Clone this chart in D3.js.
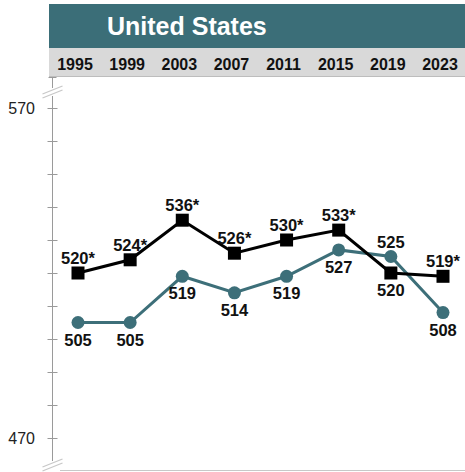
<!DOCTYPE html>
<html>
<head>
<meta charset="utf-8">
<script src="https://cdn.jsdelivr.net/npm/d3@7"></script>
<style>
  body { margin: 0; background: #fff; }
  svg { font-family: "Liberation Sans", Arial, sans-serif; }
</style>
</head>
<body>
<script>
'use strict';

// chart values
const years = ["1995", "1999", "2003", "2007", "2011", "2015", "2019", "2023"];
const blackValues = [520, 524, 536, 526, 530, 533, 520, 519];
const blackLabels = ["520*", "524*", "536*", "526*", "530*", "533*", "520", "519*"];
const tealValues = [505, 505, 519, 514, 519, 527, 525, 508];
const tealLabels = ["505", "505", "519", "514", "519", "527", "525", "508"];
const yTicks = [470, 480, 490, 500, 510, 520, 530, 540, 550, 560, 570];
const yLabels = [470, 570];
const title = "United States";

const teal = "#3d6f79";

(function() {
  const width = 465, height = 472;
  const svg = d3.select("body").append("svg")
    .attr("width", width)
    .attr("height", height);

  // header
  svg.append("rect")
    .attr("x", 49).attr("y", 4)
    .attr("width", width - 49).attr("height", 44)
    .attr("fill", "#3b6e78");
  svg.append("text")
    .attr("x", 107).attr("y", 35)
    .attr("fill", "#fff")
    .style("font-size", "25px")
    .style("font-weight", "bold")
    .text(title);

  // year band
  svg.append("rect")
    .attr("x", 49).attr("y", 48)
    .attr("width", width - 49).attr("height", 28)
    .attr("fill", "#d9d9d9");
  svg.append("line")
    .attr("x1", 49).attr("x2", width)
    .attr("y1", 76.5).attr("y2", 76.5)
    .attr("stroke", "#bdbdbd");

  let x = d3.scalePoint()
    .domain(years)
    .range([78, 443]);

  let y = d3.scaleLinear()
    .domain([470, 570])
    .range([438, 108]);

  svg.selectAll(".year")
    .data(years)
    .enter()
    .append("text")
      .attr("class", "year")
      .attr("x", (d) => x(d) - 3)
      .attr("y", 70)
      .attr("text-anchor", "middle")
      .style("font-size", "16px")
      .style("font-weight", "bold")
      .attr("fill", "#111")
      .text((d) => d);

  // y axis with breaks
  const axisX = 52.5;
  const axisColor = "#9a9a9a";
  svg.append("line")
    .attr("x1", axisX).attr("x2", axisX)
    .attr("y1", 77).attr("y2", 88)
    .attr("stroke", axisColor);
  svg.append("line")
    .attr("x1", axisX - 4).attr("x2", axisX + 4)
    .attr("y1", 77.5).attr("y2", 77.5)
    .attr("stroke", axisColor);
  svg.append("line")
    .attr("x1", axisX).attr("x2", axisX)
    .attr("y1", 96).attr("y2", 461)
    .attr("stroke", axisColor);

  function breakMark(cy) {
    [-2, 2].forEach((o) => {
      svg.append("line")
        .attr("x1", axisX - 10).attr("y1", cy + 4 + o)
        .attr("x2", axisX + 10).attr("y2", cy - 4 + o)
        .attr("stroke", "#c8c8c8")
        .attr("stroke-width", 1.3);
    });
  }
  breakMark(92);
  breakMark(465);

  svg.append("line")
    .attr("x1", 60).attr("x2", width)
    .attr("y1", 470.5).attr("y2", 470.5)
    .attr("stroke", "#c8c8c8");

  svg.selectAll(".ytick")
    .data(yTicks)
    .enter()
    .append("line")
      .attr("class", "ytick")
      .attr("x1", axisX - 5).attr("x2", axisX + 5)
      .attr("y1", (d) => Math.round(y(d)) + 0.5)
      .attr("y2", (d) => Math.round(y(d)) + 0.5)
      .attr("stroke", axisColor);

  svg.selectAll(".ylabel")
    .data(yLabels)
    .enter()
    .append("text")
      .attr("class", "ylabel")
      .attr("x", 35)
      .attr("y", (d) => y(d) + 6)
      .attr("text-anchor", "end")
      .style("font-size", "16px")
      .attr("fill", "#222")
      .text((d) => d);

  // lines
  let line = d3.line()
    .x((d, i) => x(years[i]))
    .y((d) => y(d));

  svg.append("path")
    .datum(tealValues)
    .attr("fill", "none")
    .attr("stroke", teal)
    .attr("stroke-width", 3)
    .attr("d", line);

  svg.append("path")
    .datum(blackValues)
    .attr("fill", "none")
    .attr("stroke", "#000")
    .attr("stroke-width", 3)
    .attr("d", line);

  svg.selectAll(".dot")
    .data(tealValues)
    .enter()
    .append("circle")
      .attr("class", "dot")
      .attr("cx", (d, i) => x(years[i]))
      .attr("cy", (d) => y(d))
      .attr("r", 6.5)
      .attr("fill", teal);

  svg.selectAll(".sq")
    .data(blackValues)
    .enter()
    .append("rect")
      .attr("class", "sq")
      .attr("x", (d, i) => x(years[i]) - 6.5)
      .attr("y", (d) => y(d) - 6.5)
      .attr("width", 13)
      .attr("height", 13)
      .attr("fill", "#000");

  // value labels: 2019 swaps sides
  const swapIndex = 6;
  svg.selectAll(".blab")
    .data(blackValues)
    .enter()
    .append("text")
      .attr("class", "blab")
      .attr("x", (d, i) => x(years[i]))
      .attr("y", (d, i) => i == swapIndex ? y(d) + 23 : y(d) - 9)
      .attr("text-anchor", "middle")
      .style("font-size", "16.5px")
      .style("font-weight", "bold")
      .attr("fill", "#111")
      .text((d, i) => blackLabels[i]);

  svg.selectAll(".tlab")
    .data(tealValues)
    .enter()
    .append("text")
      .attr("class", "tlab")
      .attr("x", (d, i) => x(years[i]))
      .attr("y", (d, i) => i == swapIndex ? y(d) - 9 : y(d) + 23)
      .attr("text-anchor", "middle")
      .style("font-size", "16.5px")
      .style("font-weight", "bold")
      .attr("fill", "#111")
      .text((d, i) => tealLabels[i]);
})();
</script>
</body>
</html>
